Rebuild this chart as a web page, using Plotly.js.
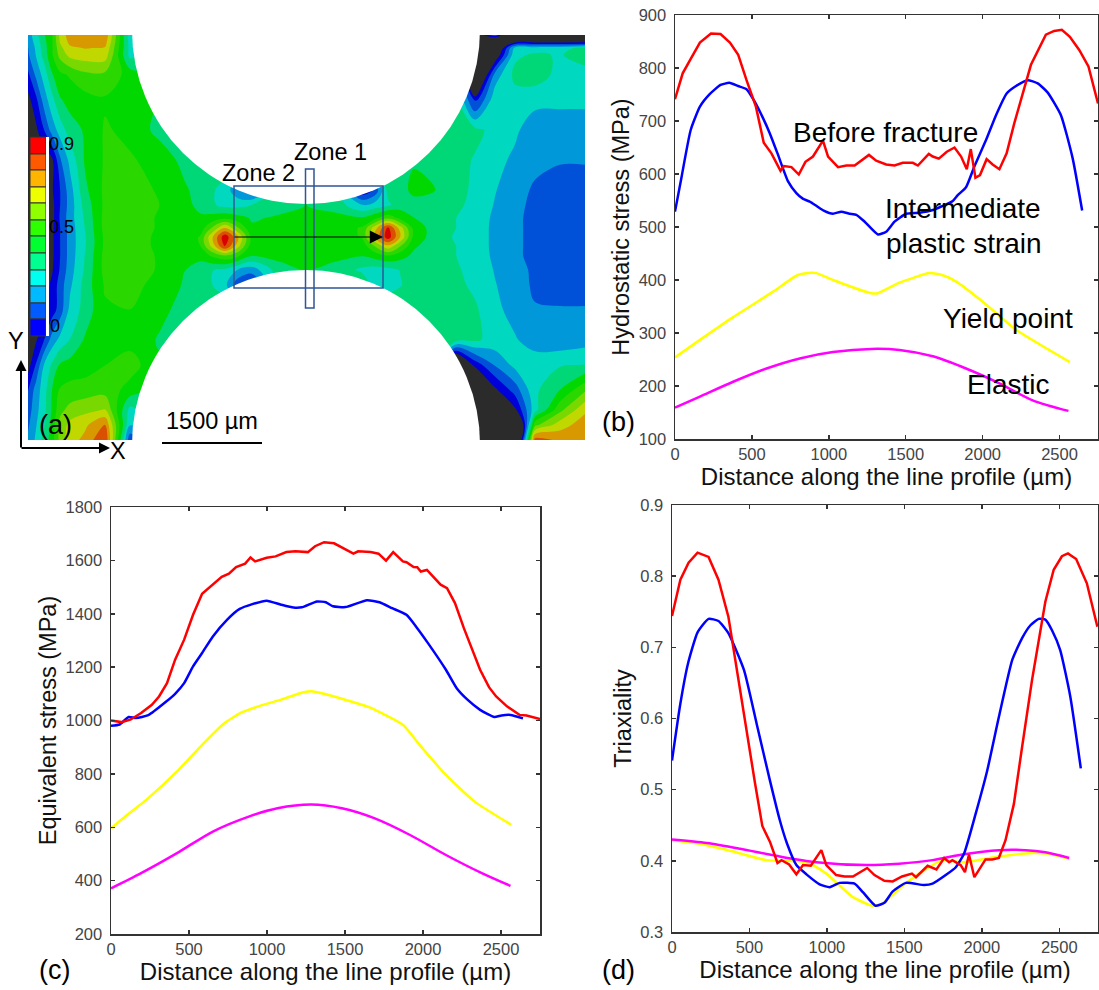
<!DOCTYPE html>
<html><head><meta charset="utf-8">
<script src="https://cdn.plot.ly/plotly-3.0.1.min.js"></script>
<style>html,body{margin:0;padding:0;background:#fff}</style></head>
<body><div id="chart" style="width:1099px;height:990px"></div>
<script>
// ---------- panel (b) hydrostatic stress
const hBeforeX=[0,50,104,162,234,296,357,411,465,526,577,627,686,709,757,805,848,897,962,995,1060,1114,1168,1261,1308,1373,1427,1481,1546,1579,1650,1676,1715,1767,1817,1860,1897,1923,1953,1983,2026,2065,2109,2156,2206,2260,2314,2411,2465,2515,2567,2628,2688,2750];
const hBeforeY=[741,790,818,848,865,864,848,825,777,727,659,639,606,615,613,599,623,633,663,633,613,616,616,636,625,618,616,621,621,616,638,633,629,642,650,633,609,647,593,598,628,618,609,639,696,752,806,863,870,872,859,834,803,733];
const hInterX=[0,43,102,162,227,296,353,411,465,519,573,616,670,735,789,833,876,919,967,1027,1081,1135,1179,1233,1319,1373,1427,1503,1590,1676,1741,1806,1838,1892,1946,2022,2087,2156,2217,2293,2358,2422,2509,2585,2647];
const hInterY=[529,595,683,727,751,768,772,766,760,736,705,677,636,586,564,553,548,540,531,525,529,525,523,510,486,491,510,525,527,532,540,549,560,575,614,664,711,752,766,777,771,754,711,630,531];
const hYieldX=[0,162,378,638,789,865,919,1027,1276,1319,1460,1654,1741,1828,2001,2217,2567];
const hYieldY=[254,287,330,378,408,413,413,400,375,375,395,413,409,397,359,306,245];
const hElasticX=[0,162,378,595,811,1027,1276,1460,1676,1892,2109,2325,2558];
const hElasticY=[159,180,208,233,252,264,270,268,256,233,205,173,153];
// ---------- panel (c) equivalent stress
const eBeforeX=[0,67,124,193,262,308,359,411,469,526,584,630,710,756,802,860,894,924,998,1055,1124,1182,1262,1308,1366,1430,1492,1554,1584,1664,1715,1763,1809,1871,1894,1940,1963,1986,2025,2113,2154,2205,2262,2308,2366,2423,2469,2538,2584,2618,2664,2699,2750];
const eBeforeY=[1000,994,1003,1028,1059,1090,1140,1228,1303,1396,1475,1499,1538,1550,1575,1588,1611,1596,1610,1615,1631,1634,1631,1653,1668,1664,1646,1625,1634,1631,1625,1599,1631,1596,1593,1575,1574,1558,1564,1509,1496,1440,1346,1278,1190,1125,1090,1053,1034,1021,1019,1013,1005];
const eInterX=[0,55,113,159,239,354,411,469,526,584,653,745,825,906,998,1090,1170,1223,1320,1377,1423,1503,1641,1721,1802,1894,1963,2032,2147,2216,2285,2366,2457,2503,2561,2641];
const eInterY=[980,985,1013,1009,1020,1071,1100,1140,1203,1253,1315,1378,1418,1436,1449,1434,1423,1424,1446,1443,1428,1425,1451,1443,1421,1396,1346,1290,1190,1121,1078,1040,1013,1019,1021,1008];
const eYieldX=[0,78,239,423,584,726,837,929,1090,1228,1285,1366,1653,1871,1986,2147,2331,2566];
const eYieldY=[596,634,709,809,909,990,1030,1050,1078,1105,1110,1100,1050,984,903,796,696,609];
const eElasticX=[0,193,423,653,883,1067,1285,1480,1687,1917,2147,2377,2561];
const eElasticY=[371,428,503,584,640,671,685,671,634,571,496,428,380];
// ---------- panel (d) triaxiality
const tBeforeX=[0,54,107,165,236,300,364,418,471,536,583,632,681,707,756,803,846,896,964,996,1060,1114,1168,1260,1307,1371,1425,1485,1549,1575,1650,1707,1757,1789,1810,1864,1891,1917,1952,1982,2024,2067,2110,2153,2207,2260,2324,2410,2464,2517,2556,2609,2678,2746];
const tBeforeY=[.744,.795,.819,.833,.827,.795,.743,.668,.593,.509,.449,.427,.397,.401,.395,.381,.394,.393,.415,.394,.380,.378,.378,.390,.380,.372,.371,.378,.382,.377,.393,.388,.404,.398,.401,.394,.384,.409,.377,.387,.402,.402,.404,.429,.480,.560,.654,.764,.809,.828,.832,.824,.790,.729];
const tInterX=[0,54,103,165,236,300,364,465,546,632,696,743,803,868,953,1018,1082,1178,1232,1313,1371,1425,1510,1628,1682,1767,1832,1885,1960,2035,2110,2196,2260,2314,2367,2410,2453,2506,2571,2639];
const tInterY=[.541,.621,.677,.721,.740,.737,.720,.668,.593,.513,.457,.424,.394,.381,.367,.363,.369,.368,.356,.337,.341,.357,.369,.366,.368,.380,.391,.410,.466,.527,.602,.682,.713,.731,.740,.739,.724,.696,.631,.530];
const tYieldX=[0,182,396,611,868,996,1168,1296,1360,1467,1596,1746,1874,2110,2324,2431,2564];
const tYieldY=[.429,.424,.413,.401,.398,.382,.349,.337,.340,.361,.382,.401,.398,.406,.411,.410,.403];
const tElasticX=[0,225,439,675,932,1253,1467,1682,1874,2110,2281,2410,2564];
const tElasticY=[.430,.425,.417,.407,.398,.394,.396,.401,.409,.415,.415,.412,.404];
// ---------- panel (a) contour field
const fieldX=[28,36,44,52,60,70,85,105,130,160,185,200,212,225,238,252,280,306,335,362,375,388,400,414,435,455,475,495,515,535,560,585];
const fieldY=[35,42,48,55,75,100,130,160,190,205,218,228,237,246,256,270,285,310,340,365,390,410,425,440];
const fieldZ=[
[.2,.3,.4,.48,.68,.78,.78,.8,.28,.4,.4,.4,.4,.4,.4,.4,.4,.4,.4,.4,.4,.4,.4,.4,.4,.4,-.1,.15,-.3,-.3,-.3,-.3],
[.18,.28,.38,.48,.66,.76,.77,.77,.29,.4,.4,.4,.4,.4,.4,.4,.4,.4,.4,.4,.4,.4,.4,.4,.4,.4,-.3,-.3,-.02,-.02,-.02,-.02],
[.16,.26,.37,.48,.63,.72,.74,.73,.3,.4,.4,.4,.4,.4,.4,.4,.4,.4,.4,.4,.4,.4,.4,.4,.4,.4,-.3,-.2,.28,.29,.3,.35],
[.15,.25,.36,.48,.6,.68,.7,.7,.3,.4,.4,.4,.4,.4,.4,.4,.4,.4,.4,.4,.4,.4,.4,.4,.4,.4,-.3,-.1,.31,.34,.32,.37],
[.06,.18,.28,.4,.47,.5,.55,.55,.46,.4,.4,.4,.4,.4,.4,.4,.4,.4,.4,.4,.4,.4,.4,.4,.4,.4,-.3,.2,.35,.37,.3,.29],
[-.03,.06,.2,.3,.4,.44,.46,.48,.49,.4,.4,.4,.4,.4,.4,.4,.4,.4,.4,.4,.4,.4,.4,.4,.4,.38,.05,.3,.29,.27,.27,.27],
[-.08,-.02,.08,.2,.28,.37,.42,.5,.47,.38,.4,.4,.4,.4,.4,.4,.4,.4,.4,.4,.4,.4,.4,.4,.4,.37,.35,.3,.26,.2,.19,.19],
[-.15,-.1,-.06,-.02,.15,.27,.42,.5,.5,.46,.38,.4,.4,.4,.4,.4,.4,.4,.4,.4,.4,.4,.4,.4,.37,.36,.32,.27,.23,.19,.17,.17],
[-.18,-.14,-.1,-.01,.08,.21,.39,.51,.53,.48,.42,.38,.34,.29,.18,.1,.42,.42,.4,0,.1,.36,.38,.43,.41,.36,.31,.25,.2,.15,.13,.13],
[-.2,-.16,-.1,-.03,.08,.2,.36,.51,.54,.49,.43,.39,.34,.3,.3,.33,.38,.41,.38,.25,.28,.31,.37,.38,.37,.35,.3,.24,.19,.14,.12,.12],
[-.22,-.18,-.12,-.03,.09,.21,.34,.52,.54,.48,.43,.42,.44,.47,.44,.4,.42,.44,.43,.42,.47,.55,.47,.41,.37,.33,.29,.23,.18,.14,.12,.12],
[-.24,-.19,-.12,-.02,.08,.2,.33,.52,.54,.48,.43,.44,.58,.74,.58,.42,.43,.45,.44,.5,.7,.92,.7,.46,.37,.33,.28,.23,.18,.14,.12,.12],
[-.25,-.2,-.12,-.02,.08,.2,.32,.51,.54,.47,.43,.5,.72,.96,.74,.46,.43,.44,.43,.5,.74,.95,.74,.46,.37,.32,.28,.23,.18,.14,.12,.12],
[-.24,-.19,-.12,-.02,.08,.2,.32,.51,.54,.47,.43,.49,.68,.92,.68,.44,.43,.43,.43,.44,.58,.72,.58,.42,.37,.33,.28,.23,.18,.14,.12,.12],
[-.22,-.18,-.11,-.02,.08,.2,.33,.52,.54,.48,.42,.44,.5,.55,.5,.41,.43,.44,.43,.41,.44,.48,.44,.39,.37,.33,.29,.23,.18,.14,.12,.12],
[-.2,-.15,-.09,-.01,.09,.21,.34,.52,.54,.48,.41,.36,.33,.31,.24,.2,.38,.41,.38,.31,.29,.3,.33,.37,.37,.34,.3,.24,.19,.15,.12,.12],
[-.16,-.11,-.05,.02,.12,.23,.36,.5,.52,.46,.4,.37,.33,.27,.1,.05,.4,.4,.4,.4,.29,.29,.32,.37,.37,.35,.31,.25,.2,.15,.13,.13],
[-.12,-.08,-.04,.04,.12,.27,.36,.48,.49,.43,.38,.4,.4,.4,.4,.4,.4,.4,.4,.4,.4,.4,.4,.38,.37,.37,.34,.27,.21,.17,.17,.17],
[-.1,-.01,.08,.2,.27,.33,.42,.48,.46,.4,.4,.4,.4,.4,.4,.4,.4,.4,.4,.4,.4,.4,.4,.4,.4,.37,.34,.3,.255,.2,.19,.21],
[-.04,.09,.25,.34,.42,.44,.45,.49,.53,.42,.42,.42,.42,.42,.42,.42,.42,.42,.42,.42,.42,.42,.42,.42,.42,-.3,.03,.17,.27,.3,.32,.33],
[.08,.2,.29,.41,.5,.52,.53,.54,.46,.4,.4,.4,.4,.4,.4,.4,.4,.4,.4,.4,.4,.4,.4,.4,.4,-.4,-.3,-.02,.12,.31,.41,.56],
[.12,.22,.3,.42,.55,.6,.63,.66,.3,.4,.4,.4,.4,.4,.4,.4,.4,.4,.4,.4,.4,.4,.4,.4,.4,-.4,-.4,-.3,-.02,.3,.55,.72],
[.15,.24,.32,.44,.6,.68,.72,.82,.25,.4,.4,.4,.4,.4,.4,.4,.4,.4,.4,.4,.4,.4,.4,.4,.4,-.4,-.4,-.4,-.4,.55,.7,.78],
[.18,.26,.36,.45,.6,.7,.76,.9,.1,.3,.3,.3,.3,.3,.3,.3,.3,.3,.3,.3,.3,.3,.3,.3,.3,-.4,-.4,-.4,-.4,.86,.8,.78]
];
const bandColors=['#2b2b2b','#0000d8','#0050d8','#0098d8','#00d8c0','#00d878','#00d800','#2ad800','#78d800','#c0d800','#d89800','#d85000','#d80000'];
const legendColors=['#ff0000','#ff5a00','#ffb400','#eeff00','#90ff00','#2eff00','#00ff30','#00ff90','#00ffee','#00baff','#005cff','#0000ff'];
const legendEdges=[137,154,170,187,203,220,236,253,270,286,303,319,336];
const legendLabels=[['0.9',61,144],['0.5',61,227],['0',55,326]];
const panelLabels=[['(a)',55,425],['(b)',618,422],['(c)',54,970],['(d)',618,970]];
const curveLabels=[['Before fracture',885,133],['Intermediate',963,208],['plastic strain',964,243],['Yield point',1008,319],['Elastic',1008,384]];
const lineColors={before:'#ff0000',inter:'#0000ff',yield:'#ffff00',elastic:'#ff00ff'};
const FONT='"Liberation Sans", Arial, sans-serif';
const W=1099,H=990;

function stepped(cols){const n=cols.length-1,o=[];cols.forEach((c,k)=>{o.push([Math.max(0,(k-.5)/n),c]);o.push([Math.min(1,(k+.5)/n),c]);});return o;}
function curve(x,y,color,ax,smooth){return {type:'scatter',mode:'lines',x,y,xaxis:'x'+ax,yaxis:'y'+ax,line:smooth?{color,width:2.5,shape:'spline',smoothing:smooth}:{color,width:2.5},showlegend:false,hoverinfo:'skip'};}
const traces=[
 {type:'contour',x:fieldX,y:fieldY,z:fieldZ,xaxis:'x4',yaxis:'y4',autocontour:false,
  contours:{start:0,end:0.9001,size:0.9/11,coloring:'fill',showlines:false},line:{width:0},
  colorscale:stepped(bandColors),showscale:false,hoverinfo:'skip'},
 {type:'bar',x:legendColors.map(()=>38),base:legendEdges.slice(0,-1),y:legendEdges.slice(1).map((e,i)=>e-legendEdges[i]),width:16,xaxis:'x4',yaxis:'y4',
  marker:{color:legendColors,line:{color:'#333',width:1}},showlegend:false,hoverinfo:'skip'},
 curve(hElasticX,hElasticY,lineColors.elastic,'',.8),curve(hYieldX,hYieldY,lineColors.yield,'',.5),curve(hInterX,hInterY,lineColors.inter,'',.5),curve(hBeforeX,hBeforeY,lineColors.before,''),
 curve(eElasticX,eElasticY,lineColors.elastic,'2',.8),curve(eYieldX,eYieldY,lineColors.yield,'2',.5),curve(eInterX,eInterY,lineColors.inter,'2',.5),curve(eBeforeX,eBeforeY,lineColors.before,'2'),
 curve(tYieldX,tYieldY,lineColors.yield,'3',.6),curve(tElasticX,tElasticY,lineColors.elastic,'3',.8),curve(tInterX,tInterY,lineColors.inter,'3',.5),curve(tBeforeX,tBeforeY,lineColors.before,'3')
];
function xa(l,r,anchor,standoff){return {domain:[l/W,r/W],range:[0,2750],dtick:500,tick0:0,anchor,mirror:'ticks',showline:true,linecolor:'#333',linewidth:1.5,ticks:'inside',ticklen:4,tickwidth:1.5,tickcolor:'#333',showgrid:false,zeroline:false,
 tickfont:{family:FONT,size:16.5,color:'#444'},title:{text:'Distance along the line profile (µm)',font:{family:FONT,size:24,color:'#111'},standoff}};}
function ya(t,b,range,dtick,anchor,text,standoff,fmt){return {domain:[1-b/H,1-t/H],range,dtick,tick0:range[0],anchor,mirror:'ticks',showline:true,linecolor:'#333',linewidth:1.5,ticks:'inside',ticklen:4,tickwidth:1.5,tickcolor:'#333',showgrid:false,zeroline:false,tickformat:fmt,ticklabelstandoff:4,
 tickfont:{family:FONT,size:16.5,color:'#444'},title:{text,font:{family:FONT,size:23.5,color:'#111'},standoff}};}
const txt=(size)=>(a)=>({text:a[0],xref:'paper',yref:'paper',x:a[1]/W,y:1-a[2]/H,xanchor:'center',yanchor:'middle',showarrow:false,font:{family:FONT,size,color:'#000'}});
const a4=(text,x,y,size)=>({text,xref:'x4',yref:'y4',x,y,xanchor:'center',yanchor:'middle',showarrow:false,font:{family:FONT,size,color:'#000'}});
const arrow=(x,y,ax,ay,w,s)=>({xref:'x4',yref:'y4',x,y,ax,ay,axref:'pixel',ayref:'pixel',text:'',showarrow:true,arrowhead:2,arrowsize:s,arrowwidth:w,arrowcolor:'#000',standoff:0,startstandoff:0});
const annotations=[].concat(
 panelLabels.map(txt(27)),curveLabels.map(txt(28)),
 legendLabels.map(a=>a4(a[0],a[1],a[2],18)),
 [a4('Zone 1',330,152,23.5),a4('Zone 2',258,173,23.5),a4('1500 µm',212,421,23.5),a4('X',118,451,23.5),a4('Y',16,341,23.5)],
 [arrow(383,237,-150,0,1.2,2.2),arrow(21,360,0,89,2,1.1),arrow(110,448,-90,0,2,1.1)]
);
const rect=(x0,y0,x1,y1,line,fill)=>({type:'rect',xref:'x4',yref:'y4',x0,y0,x1,y1,line:line||{width:0},fillcolor:fill||'rgba(0,0,0,0)'});
const notchR=174;
const notches=[[306,30],[306,444]];
const shapes=[].concat(
 notches.map(c=>({type:'circle',xref:'x4',yref:'y4',x0:c[0]-notchR,x1:c[0]+notchR,y0:c[1]-notchR,y1:c[1]+notchR,fillcolor:'#fff',line:{width:0}})),
 [rect(46,137,49,336,null,'#fff')],
 [rect(234,186,383,288,{color:'#2f5597',width:1.5}),rect(305.5,169,314,308,{color:'#2f5597',width:1.5})],
 [{type:'line',xref:'x4',yref:'y4',x0:162,x1:262,y0:443,y1:443,line:{color:'#000',width:2}}]
);
const layout={width:W,height:H,margin:{l:0,r:0,t:0,b:0,pad:0},paper_bgcolor:'#fff',plot_bgcolor:'rgba(0,0,0,0)',showlegend:false,font:{family:FONT},barmode:'overlay',
 xaxis:xa(675,1098,'y',6),yaxis:ya(15,439,[100,900],100,'x','Hydrostatic stress (MPa)',2),
 xaxis2:xa(111,540,'y2',6),yaxis2:ya(507,934,[200,1800],200,'x2','Equivalent stress (MPa)',2),
 xaxis3:xa(672,1098,'y3',6),yaxis3:ya(505,932,[0.3,0.9],0.1,'x3','Triaxiality',2,'.1f'),
 xaxis4:{domain:[0,600/W],range:[0,600],visible:false,anchor:'y4'},
 yaxis4:{domain:[1-480/H,1],range:[480,0],visible:false,anchor:'x4'},
 annotations,shapes};
Plotly.newPlot('chart',traces,layout,{displayModeBar:false,staticPlot:true});
</script></body></html>
